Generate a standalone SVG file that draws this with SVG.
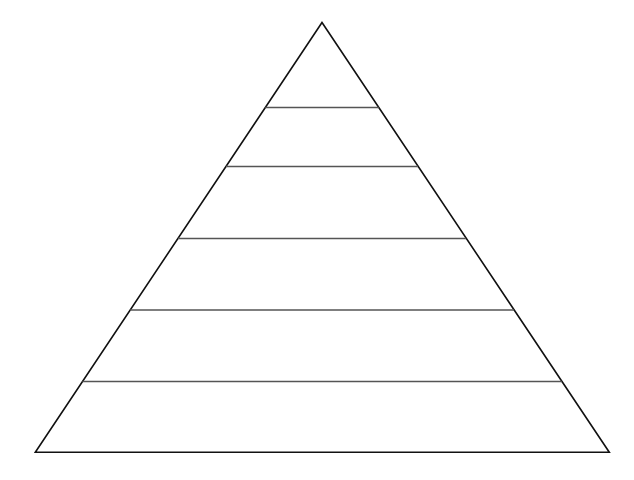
<svg xmlns="http://www.w3.org/2000/svg" width="634" height="480" viewBox="0 0 634 480">
<style>
.edge{fill:none;stroke:#111;stroke-width:1.6;stroke-linejoin:miter}
.tier{stroke:#555;stroke-width:1.5}
</style>
<rect width="634" height="480" fill="#fff"/>
<g id="pyramid">
<polygon class="edge" points="322,22.5 609.3,452.3 35.3,452.3"/>
</g>
<g id="tiers">
<line class="tier" x1="265.3" y1="107.5" x2="378.8" y2="107.5"/>
<line class="tier" x1="226" y1="166.5" x2="418" y2="166.5"/>
<line class="tier" x1="178" y1="238.5" x2="466" y2="238.5"/>
<line class="tier" x1="130.2" y1="310" x2="514" y2="310"/>
<line class="tier" x1="82.5" y1="381.5" x2="561.8" y2="381.5"/>
</g>
</svg>
